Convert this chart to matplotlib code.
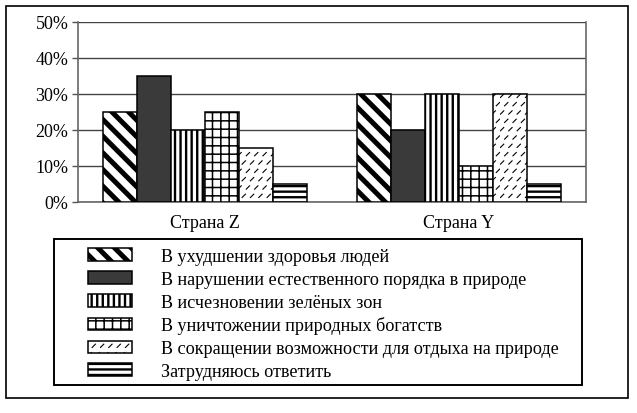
import matplotlib
matplotlib.use("Agg")
import matplotlib.pyplot as plt
import matplotlib.hatch as mhatch
from matplotlib.patches import Rectangle, Patch
import numpy as np

countries = ["Страна Z", "Страна Y"]
answers = [
    "В ухудшении здоровья людей",
    "В нарушении естественного порядка в природе",
    "В исчезновении зелёных зон",
    "В уничтожении природных богатств",
    "В сокращении возможности для отдыха на природе",
    "Затрудняюсь ответить",
]
values_z = [25, 35, 20, 25, 15, 5]
values_y = [30, 20, 30, 10, 30, 5]
y_ticks = [0, 10, 20, 30, 40, 50]


class ShortSlashes(mhatch.HatchPatternBase):
    """Small staggered slash marks, used in place of the '.' hatch."""

    def __init__(self, hatch, density):
        self.num = int(hatch.count('.') * density)
        self.num_vertices = 2 * self.num * self.num
        self.filled = False

    def set_vertices_and_codes(self, vertices, codes):
        n = self.num
        d = 0.2 / n
        k = 0
        for j in range(n):
            for i in range(n):
                cx = (i + 0.5 * (j % 2) + 0.25) / n
                cy = (j + 0.5) / n
                vertices[k] = (cx - d, cy - d)
                vertices[k + 1] = (cx + d, cy + d)
                codes[k] = mhatch.Path.MOVETO
                codes[k + 1] = mhatch.Path.LINETO
                k += 2


mhatch._hatch_types = [h for h in mhatch._hatch_types
                       if h is not mhatch.SmallFilledCircles] + [ShortSlashes]

styles = [
    dict(facecolor="white", hatch="\\\\", hlw=3.6),
    dict(facecolor="#3a3a3a", hatch=None, hlw=1.0),
    dict(facecolor="white", hatch="|||", hlw=1.7),
    dict(facecolor="white", hatch="++", hlw=1.1),
    dict(facecolor="white", hatch="..", hlw=0.8),
    dict(facecolor="white", hatch="---", hlw=1.7),
]

plt.rcParams['font.family'] = ['Liberation Serif', 'DejaVu Serif']

fig = plt.figure(figsize=(6.37, 4.14), dpi=100)
ax = fig.add_axes([0.1225, 0.5104, 0.7975, 0.4348])

x = np.arange(len(countries))
width = 0.8 / len(answers)
handles = []
for i, st in enumerate(styles):
    vals = [values_z[i], values_y[i]]
    pos = x - 0.4 + width * (i + 0.5)
    # hatch line width is picked up when the patch is created
    with plt.rc_context({'hatch.linewidth': st['hlw'], 'hatch.color': 'black'}):
        bars = ax.bar(pos, vals, width, facecolor=st['facecolor'],
                      edgecolor='black', linewidth=1.1, hatch=st['hatch'], zorder=3)
        handles.append(Patch(facecolor=st['facecolor'], edgecolor='black',
                             linewidth=1.1, hatch=st['hatch']))
    for b in list(bars) + [handles[-1]]:
        if hasattr(b, 'set_hatch_linewidth'):
            b.set_hatch_linewidth(st['hlw'])

ax.set_xlim(-0.5, 1.5)
ax.set_ylim(0, 50)
ax.set_yticks(y_ticks)
ax.set_yticklabels([f"{v}%" for v in y_ticks], fontsize=13)
ax.set_xticks(x)
ax.set_xticklabels(countries, fontsize=13)
ax.tick_params(axis='x', length=0, pad=9)
ax.tick_params(axis='y', length=4, width=1, color='#555555', pad=3, direction='out')
ax.yaxis.grid(True, color='#444444', linewidth=1.0, zorder=0)
ax.set_axisbelow(True)
ax.spines['top'].set_visible(False)
for s in ['left', 'right', 'bottom']:
    ax.spines[s].set_color('#666666')
    ax.spines[s].set_linewidth(1.2)

# outer frame and legend frame
fig.patches.append(Rectangle((6 / 637, 1 - 399 / 414), 622 / 637, 392 / 414,
                             transform=fig.transFigure, fill=False,
                             edgecolor='black', linewidth=1.2))
fig.patches.append(Rectangle((54 / 637, 1 - 386 / 414), 528 / 637, 146 / 414,
                             transform=fig.transFigure, fill=False,
                             edgecolor='black', linewidth=1.4))

leg = fig.legend(handles, answers, loc='upper left',
                 bbox_to_anchor=(88 / 637, 1 - 249 / 414), frameon=False,
                 fontsize=13.1, handlelength=2.4, handleheight=0.7,
                 handletextpad=1.6, labelspacing=0.32, borderpad=0,
                 borderaxespad=0)
for p, st in zip(leg.get_patches(), styles):
    if hasattr(p, 'set_hatch_linewidth'):
        p.set_hatch_linewidth(st['hlw'])

fig.savefig("out.png", dpi=100)
